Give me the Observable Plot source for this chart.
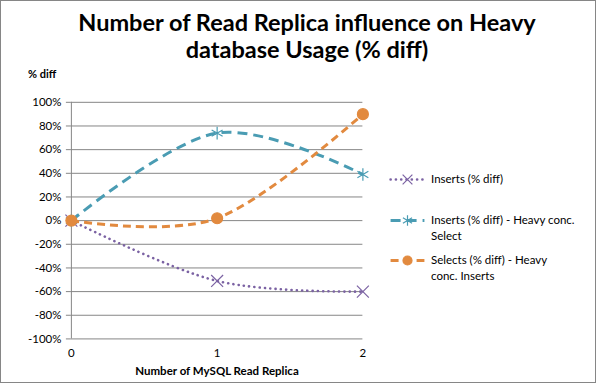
<!DOCTYPE html>
<html><head><meta charset="utf-8">
<script src="https://cdn.jsdelivr.net/npm/d3@7"></script>
<script src="https://cdn.jsdelivr.net/npm/@observablehq/plot@0.6"></script>
<style>
body{margin:0;background:#fff;font-family:Lato,"Open Sans",sans-serif;}
#wrap{position:relative;width:596px;height:383px;box-sizing:border-box;border:1px solid #868686;overflow:hidden;}
#chart{position:absolute;left:-1px;top:-1px;}
.t{position:absolute;white-space:nowrap;color:#000;}
#title{left:0;width:612px;top:8px;text-align:center;font-weight:bold;font-size:23.5px;line-height:27px;}
#ylab{left:27px;top:66px;font-weight:bold;font-size:11px;}
#xlab{left:0;width:432px;top:363px;text-align:center;font-weight:bold;font-size:11.5px;}
.leg{position:absolute;font-size:11.5px;line-height:16px;white-space:nowrap;}
</style></head>
<body>
<div id="wrap">
<div id="chart"></div>
<div id="title" class="t">Number of Read Replica influence on Heavy<br>database Usage (% diff)</div>
<div id="ylab" class="t">% diff</div>
<div id="xlab" class="t">Number of MySQL Read Replica</div>
<div id="legend"></div>
</div>
<script>
const replicas = [0, 1, 2];
const seriesNames = ["Inserts (% diff)", "Inserts (% diff) - Heavy conc. Select", "Selects (% diff) - Heavy conc. Inserts"];
const inserts = [0, -0.51, -0.60];
const insertsHeavySelect = [0, 0.74, 0.39];
const selectsHeavyInserts = [0, 0.02, 0.90];
const yTicks = [-1, -0.8, -0.6, -0.4, -0.2, 0, 0.2, 0.4, 0.6, 0.8, 1];

const colors = ["#7B62A3", "#4A9CB3", "#E28A3F"];
const styles = [
  {dash: "0.1 5.2", width: 2.6, cap: "round", symbol: "times", r: 5.5, fill: "none"},
  {dash: "10 6", width: 3, cap: "butt", symbol: "asterisk", r: 6, fill: "none"},
  {dash: "8 5", width: 3, cap: "butt", symbol: "circle", r: 5.5, fill: "fill"}
];
const allValues = [inserts, insertsHeavySelect, selectsHeavyInserts];

const marks = [
  Plot.ruleY(yTicks, {stroke: "#868686", strokeWidth: 1}),
  Plot.ruleX([0], {stroke: "#868686"}),
  Plot.axisY({ticks: yTicks, tickFormat: d => Math.round(d * 100) + "%", tickSize: 5, tickPadding: 5, stroke: "#868686", fill: "#000", fontSize: 11.5, label: null}),
  Plot.axisX({ticks: replicas, tickFormat: d => String(d), tickSize: 0, tickPadding: 10, fill: "#000", fontSize: 11.5, label: null})
];
allValues.forEach((vals, i) => {
  const data = replicas.map((r, j) => ({x: r, y: vals[j]}));
  const s = styles[i];
  marks.push(Plot.line(data, {x: "x", y: "y", curve: "cardinal", stroke: colors[i], strokeWidth: s.width, strokeDasharray: s.dash, strokeLinecap: s.cap}));
  marks.push(Plot.dot(data, {x: "x", y: "y", symbol: s.symbol, r: s.r, stroke: colors[i], strokeWidth: 1.2, fill: s.fill === "fill" ? colors[i] : "none"}));
});

const plot = Plot.plot({
  width: 596, height: 383,
  marginLeft: 71, marginRight: 233, marginTop: 102, marginBottom: 44,
  x: {type: "linear", domain: [0, 2]},
  y: {type: "linear", domain: [-1, 1]},
  style: {fontFamily: "Lato, 'Open Sans', sans-serif", background: "transparent"},
  marks
});
document.getElementById("chart").appendChild(plot);

// legend
const legendPos = [
  {top: 170, lines: ["Inserts (% diff)"]},
  {top: 211, lines: ["Inserts (% diff) - Heavy conc.", "Select"]},
  {top: 251, lines: ["Selects (% diff) - Heavy", "conc. Inserts"]}
];
const legend = document.getElementById("legend");
legendPos.forEach((p, i) => {
  const s = styles[i];
  const sw = Plot.plot({
    width: 36, height: 16, margin: 0,
    x: {domain: [0, 1], axis: null}, y: {domain: [0, 1], axis: null},
    style: {background: "transparent", overflow: "visible"},
    marks: [
      Plot.line([{x: 0.03, y: 0.5}, {x: 0.97, y: 0.5}], {x: "x", y: "y", stroke: colors[i], strokeWidth: s.width, strokeDasharray: s.dash, strokeLinecap: s.cap}),
      Plot.dot([{x: 0.5, y: 0.5}], {x: "x", y: "y", symbol: s.symbol, r: s.r - 1, stroke: colors[i], strokeWidth: 1.2, fill: s.fill === "fill" ? colors[i] : "none"})
    ]
  });
  sw.style.position = "absolute";
  sw.style.left = "388px";
  sw.style.top = p.top + "px";
  legend.appendChild(sw);
  const t = document.createElement("div");
  t.className = "leg";
  t.style.left = "430px";
  t.style.top = p.top + "px";
  t.innerHTML = p.lines.join("<br>");
  legend.appendChild(t);
});
</script>
</body></html>
